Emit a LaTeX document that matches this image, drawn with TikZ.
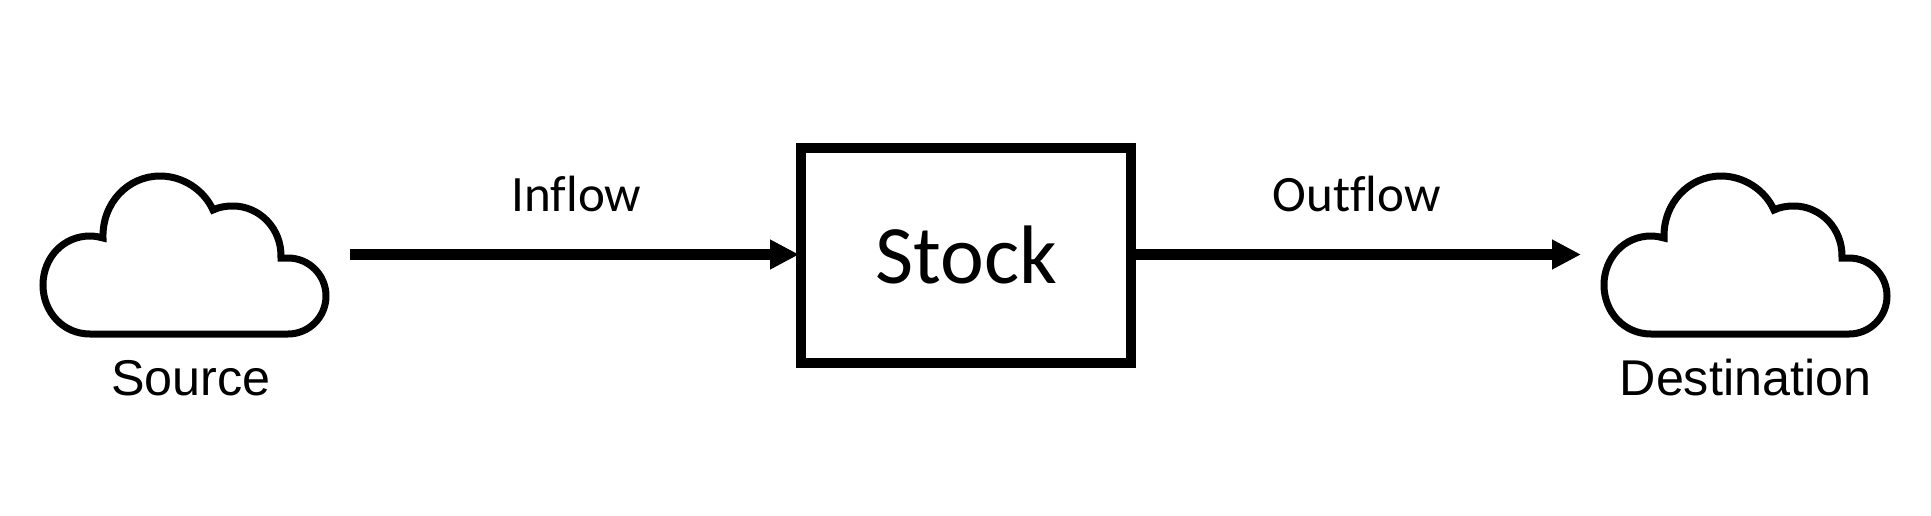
\documentclass[tikz,border=0pt]{standalone}
\usepackage{fontspec}
\setmainfont{Liberation Sans}
\newfontfamily\calib[RawFeature=-liga]{Carlito}
\usetikzlibrary{arrows.meta}
\tikzset{
  cloudline/.style={line width=7pt,miter limit=10,fill=white},
  flow/.style={line width=10.5pt,-{Triangle[length=29pt,width=28pt]}},
  stockbox/.style={draw,line width=10pt,minimum width=330pt,minimum height=215pt,inner sep=0pt},
  cloudlabel/.style={font=\fontsize{50.3}{50.3}\selectfont,anchor=base,inner sep=0pt},
  flowlabel/.style={font=\calib\fontsize{51}{51}\selectfont,anchor=base,inner sep=0pt},
  cloudpic/.pic={
    \draw[cloudline] (103,238) .. controls (102,203) and (128,176) .. (160,176)
      .. controls (183,176) and (204,190) .. (213,210)
      .. controls (219,207) and (226,206) .. (233,206)
      .. controls (259,206) and (282,228) .. (281,258)
      .. controls (283,258) and (285,258) .. (288,258)
      .. controls (309,258) and (326,275) .. (326,296)
      .. controls (326,317) and (309,334) .. (288,334)
      -- (90,334)
      .. controls (63,334) and (43,312) .. (43,285)
      .. controls (43,258) and (63,236) .. (90,236)
      .. controls (95,236) and (99,237) .. (103,238) -- cycle;
  }
}
\begin{document}
\begin{tikzpicture}[x=1pt,y=-1pt]
\useasboundingbox (0,0) rectangle (1931,515);
\pic at (0,0) {cloudpic};
\pic at (1561,0) {cloudpic};
\coordinate (instart) at (350,254.5);
\coordinate (outend) at (1581,254.5);
\node[stockbox] (stock) at (966,255.5) {};
\draw[flow,shorten >=-3pt] (instart) -- (stock.west |- instart);
\draw[flow] (stock.east |- outend) -- (outend);
\node[font=\calib\fontsize{83}{83}\selectfont,anchor=base,inner sep=0pt] (stocklabel) at (966,283) {Stock};
\node[cloudlabel] (source) at (191,395) {Source};
\node[cloudlabel] (destination) at (1745.5,395) {Destination};
\node[flowlabel] (inflow) at (576.5,211.5) {Inflow};
\node[flowlabel] (outflow) at (1356.5,211.5) {Outflow};
\end{tikzpicture}
\end{document}
